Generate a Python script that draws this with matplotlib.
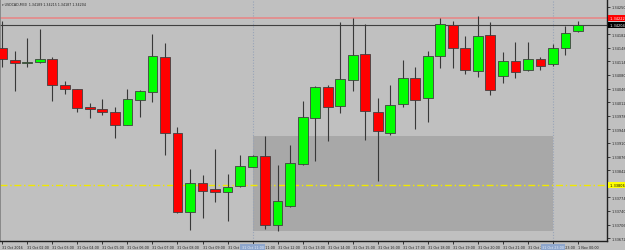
import matplotlib
matplotlib.use('Agg')
import matplotlib.pyplot as plt
from matplotlib.transforms import blended_transform_factory

symbol_title = "USDCAD,M30  1.34189 1.34215 1.34187 1.34204"

opens = [1.34148, 1.34118, 1.34109, 1.34112, 1.34119, 1.34055, 1.34045, 1.33999, 1.33995, 1.33988,
         1.33955, 1.34017, 1.34037, 1.34124, 1.33934, 1.33737, 1.33809, 1.33795, 1.33787, 1.33802,
         1.33851, 1.33877, 1.33705, 1.33753, 1.33857, 1.33972, 1.34050, 1.34002, 1.34068, 1.34132,
         1.33988, 1.33935, 1.34007, 1.34072, 1.34023, 1.34127, 1.34206, 1.34148, 1.34091, 1.34179,
         1.34077, 1.34114, 1.34092, 1.34121, 1.34107, 1.34147, 1.34189]
highs = [1.34215, 1.34139, 1.34173, 1.34195, 1.34124, 1.34065, 1.34046, 1.34009, 1.34020, 1.33999,
         1.34044, 1.34043, 1.34182, 1.34160, 1.33951, 1.33845, 1.33830, 1.33895, 1.33833, 1.33881,
         1.33880, 1.33928, 1.33856, 1.33906, 1.34016, 1.34053, 1.34055, 1.34212, 1.34222, 1.34208,
         1.34022, 1.34056, 1.34118, 1.34101, 1.34140, 1.34223, 1.34214, 1.34178, 1.34228, 1.34213,
         1.34137, 1.34162, 1.34163, 1.34124, 1.34157, 1.34203, 1.34215]
lows = [1.34100, 1.34041, 1.34101, 1.34109, 1.34015, 1.34033, 1.33988, 1.33973, 1.33981, 1.33922,
        1.33954, 1.33974, 1.34013, 1.33880, 1.33736, 1.33692, 1.33722, 1.33763, 1.33716, 1.33799,
        1.33850, 1.33695, 1.33690, 1.33751, 1.33856, 1.33864, 1.33916, 1.33985, 1.34041, 1.33918,
        1.33816, 1.33931, 1.34001, 1.33945, 1.33963, 1.34098, 1.34097, 1.34083, 1.34076, 1.34031,
        1.34060, 1.34072, 1.34091, 1.34093, 1.34103, 1.34131, 1.34187]
closes = [1.34120, 1.34109, 1.34113, 1.34119, 1.34054, 1.34044, 1.33998, 1.33994, 1.33988, 1.33956,
          1.34020, 1.34040, 1.34127, 1.33934, 1.33737, 1.33809, 1.33791, 1.33787, 1.33801, 1.33853,
          1.33878, 1.33705, 1.33765, 1.33860, 1.33975, 1.34050, 1.34001, 1.34069, 1.34130, 1.33989,
          1.33939, 1.34006, 1.34073, 1.34017, 1.34127, 1.34208, 1.34148, 1.34092, 1.34178, 1.34042,
          1.34114, 1.34087, 1.34119, 1.34103, 1.34148, 1.34186, 1.34204]

time_labels = ["31 Oct 2016"] + ["31 Oct %02d:00" % h for h in range(2, 24)] + ["1 Nov 00:00"]
price_ticks = [1.34250, 1.34182, 1.34148, 1.34114, 1.34080, 1.34046, 1.34012, 1.33978,
               1.33944, 1.33910, 1.33876, 1.33842, 1.33774, 1.33740, 1.33706, 1.33672]

bid_price = 1.34204
ask_price = 1.34222
yellow_level = 1.33806
zone_top = 1.33928
zone_bottom = 1.33690
separator_idx = [20, 44]
separator_labels = ["31 Oct 11:00", "31 Oct 23:00"]

BG = '#c0c0c0'
fig = plt.figure(figsize=(6.25, 2.51), dpi=100, facecolor=BG)
ax = fig.add_axes([0, 9/251, 607/625, 242/251])
ax.set_facecolor(BG)
ax.set_xlim(-0.18, 48.32)
ax.set_ylim(1.33665, 1.34270)

# zone rectangle
ax.fill_between([separator_idx[0], separator_idx[1]], zone_bottom, zone_top,
                color='#a8a8a8', lw=0, zorder=0.5)

# separators
for s in separator_idx:
    ax.axvline(s, color='#98a4b8', lw=0.8, ls=(0, (1, 1.5)), zorder=0.8)

# horizontal lines
ax.axhline(ask_price, color='#e09090', lw=1.4, zorder=1)
ax.axhline(bid_price, color='#404040', lw=0.8, zorder=1)
ax.axhline(yellow_level, color='#f0e800', lw=1.0, ls=(0, (5, 2, 1, 2)), zorder=1)

# candles
n = len(opens)
xs = list(range(n))
ax.vlines(xs, lows, highs, color='#383838', lw=0.8, zorder=2)
bottoms = [min(o, c) for o, c in zip(opens, closes)]
heights = [max(abs(c - o), 0.00002) for o, c in zip(opens, closes)]
colors = ['#00ff00' if c >= o else '#ff0000' for o, c in zip(opens, closes)]
ax.bar(xs, heights, bottom=bottoms, width=0.78, color=colors,
       edgecolor='#404040', linewidth=0.6, zorder=3)

# axes styling
for sp in ['top', 'left']:
    ax.spines[sp].set_visible(False)
ax.spines['right'].set_color('#202020')
ax.spines['right'].set_linewidth(1.0)
ax.spines['bottom'].set_color('#202020')
ax.spines['bottom'].set_linewidth(1.0)

ax.yaxis.tick_right()
ax.set_yticks(price_ticks)
ax.set_yticklabels(["%.5f" % v for v in price_ticks])
ax.tick_params(axis='y', length=2, width=0.6, pad=1.2, labelsize=2.5, colors='#202020')

ax.set_xticks(list(range(0, n, 2)))
ax.set_xticklabels(time_labels, ha='left')
ax.tick_params(axis='x', length=2, width=0.6, pad=1.2, labelsize=2.4, colors='#202020')

# price labels on the axis
tr = blended_transform_factory(ax.transAxes, ax.transData)
for val, fc, tc in [(ask_price, '#ff0000', 'white'), (bid_price, '#000000', 'white'),
                    (yellow_level, '#ffff00', 'black')]:
    ax.text(1.004, val, " %.5f" % val, transform=tr, ha='left', va='center',
            fontsize=2.5, color=tc, clip_on=False, zorder=10,
            bbox=dict(boxstyle='square,pad=0.3', fc=fc, ec='none'))

# separator labels on time axis
trx = blended_transform_factory(ax.transData, ax.transAxes)
for s, lab in zip(separator_idx, separator_labels):
    ax.text(s, -0.025, lab, transform=trx, ha='center', va='center', fontsize=2.4,
            color='#e8eef8', clip_on=False, zorder=10,
            bbox=dict(boxstyle='square,pad=0.4', fc='#8ea6cc', ec='none'))

# title
ax.text(0.004, 0.978, "\u25be " + symbol_title, transform=ax.transAxes, ha='left', va='center',
        fontsize=2.3, color='#202020', zorder=10)

ax.axvline(-0.18, color='#808080', lw=1.2)

fig.savefig('out.png', dpi=100, facecolor=BG)
